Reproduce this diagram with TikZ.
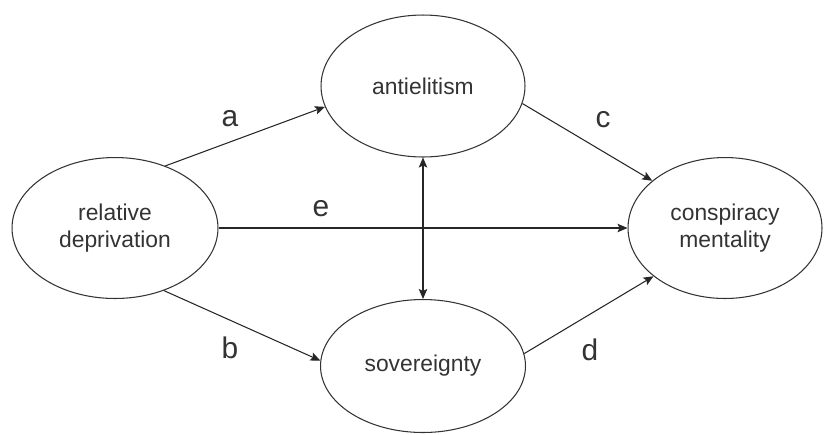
\documentclass[tikz,border=0pt]{standalone}
\usepackage{fontspec}
\setmainfont{Liberation Sans}
\usetikzlibrary{shapes.geometric,arrows.meta}
\begin{document}
\begin{tikzpicture}[x=0.02cm,y=-0.02cm,
  every node/.style={font=\fontsize{13}{15.5}\selectfont,text=black!80},
  latent/.style={draw=black!80,ellipse,line width=0.6pt,inner sep=0pt,align=center},
  effect/.style={draw=black!85,line width=0.6pt,-{Stealth[length=2mm,width=1.7mm,inset=0.4mm]}},
  coef/.style={font=\fontsize{17}{20}\selectfont}]
\useasboundingbox (0,0) rectangle (824,434);
% constructs
\node[latent,minimum width=4.12cm,minimum height=2.82cm] (rel) at (115,228) {relative\\deprivation};
\node[latent,minimum width=4.08cm,minimum height=2.84cm] (anti) at (423,86) {antielitism};
\node[latent,minimum width=4.1cm,minimum height=2.66cm] (sov) at (423,366) {sovereignty};
\node[latent,minimum width=3.88cm,minimum height=2.82cm] (consp) at (725,228) {conspiracy\\mentality};
% paths
\draw[effect] (rel.51) -- (anti.192);
\draw[effect] (rel.-52) -- (sov.177);
\draw[effect] (anti.-10) -- (consp.147);
\draw[effect] (sov.7) -- (consp.214);
\draw[effect] (rel.east) -- (consp.west);
\draw[effect,{Stealth[length=2mm,width=1.7mm,inset=0.4mm]}-{Stealth[length=2mm,width=1.7mm,inset=0.4mm]}] (anti.south) -- (sov.north);
% coefficients
\node[coef] (la) at (230,119) {a};
\node[coef] (lb) at (230,348) {b};
\node[coef] (lc) at (603,120) {c};
\node[coef] (ld) at (590,350) {d};
\node[coef] (le) at (321,209) {e};
\end{tikzpicture}
\end{document}
